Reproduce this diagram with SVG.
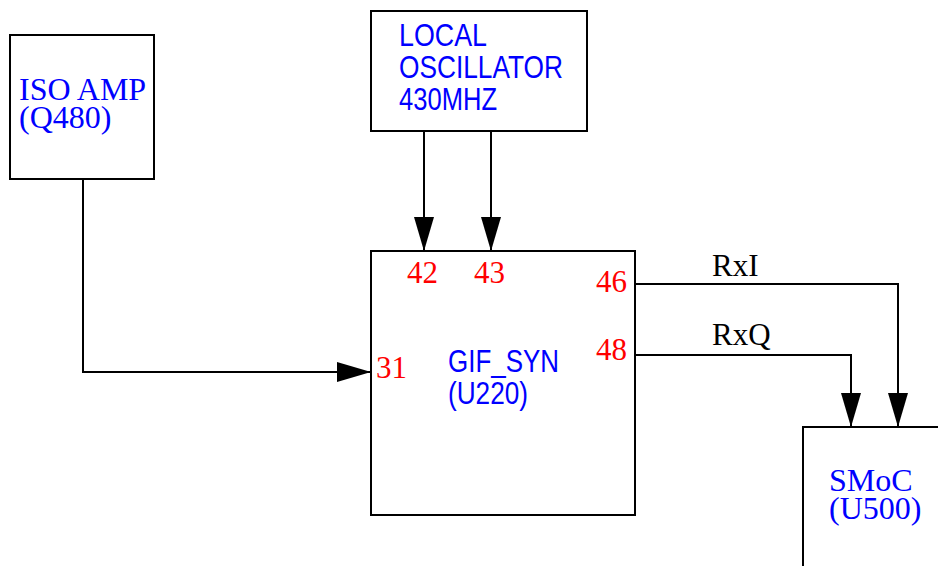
<svg xmlns="http://www.w3.org/2000/svg" width="938" height="566" viewBox="0 0 938 566">
<style>
.box{fill:#fff;stroke:#000;stroke-width:2}
.wire{fill:none;stroke:#000;stroke-width:2}
.serif{font-family:"Liberation Serif","Times New Roman",serif;font-size:31px}
.name{font-family:"Liberation Serif","Times New Roman",serif;font-size:32px}
.sans{font-family:"Liberation Sans",Arial,sans-serif;font-size:31px}
.blue{fill:#0000ff}
.red{fill:#ff0000}
.blk{fill:#000}
</style>
<defs>
<marker id="arr" viewBox="0 0 34 20" markerWidth="34" markerHeight="20" markerUnits="userSpaceOnUse" refX="34" refY="10" orient="auto">
<path d="M0,0 L34,10 L0,20 z" fill="#000"/>
</marker>
</defs>
<rect width="938" height="566" fill="#fff"/>
<g id="iso_amp">
<rect class="box" x="10" y="35" width="144" height="144"/>
<text class="name blue" x="19" y="100">ISO AMP</text>
<text class="name blue" x="19" y="128">(Q480)</text>
</g>
<g id="local_osc">
<rect class="box" x="371" y="11" width="216" height="120"/>
<text class="sans blue" x="399" y="46" textLength="88" lengthAdjust="spacingAndGlyphs">LOCAL</text>
<text class="sans blue" x="399" y="78" textLength="164" lengthAdjust="spacingAndGlyphs">OSCILLATOR</text>
<text class="sans blue" x="399" y="110" textLength="98" lengthAdjust="spacingAndGlyphs">430MHZ</text>
</g>
<g id="gif_syn">
<rect class="box" x="371" y="251" width="264" height="264"/>
<text class="sans blue" x="448" y="372" textLength="111" lengthAdjust="spacingAndGlyphs">GIF_SYN</text>
<text class="sans blue" x="448" y="404" textLength="80" lengthAdjust="spacingAndGlyphs">(U220)</text>
<text class="serif red" x="407" y="283">42</text>
<text class="serif red" x="474" y="283">43</text>
<text class="serif red" x="596" y="292">46</text>
<text class="serif red" x="596" y="360">48</text>
<text class="serif red" x="376" y="378">31</text>
</g>
<g id="smoc">
<rect class="box" x="803" y="427" width="150" height="160"/>
<text class="name blue" x="829" y="491">SMoC</text>
<text class="name blue" x="829" y="519">(U500)</text>
</g>
<g id="connectors">
<polyline class="wire" points="83,179 83,372 371,372" marker-end="url(#arr)"/>
<line class="wire" x1="424" y1="131" x2="424" y2="251" marker-end="url(#arr)"/>
<line class="wire" x1="491" y1="131" x2="491" y2="251" marker-end="url(#arr)"/>
<polyline class="wire" points="635,284 898,284 898,427" marker-end="url(#arr)"/>
<polyline class="wire" points="635,355 851,355 851,427" marker-end="url(#arr)"/>
<text class="serif blk" x="712" y="276">RxI</text>
<text class="serif blk" x="712" y="345">RxQ</text>
</g>
</svg>
